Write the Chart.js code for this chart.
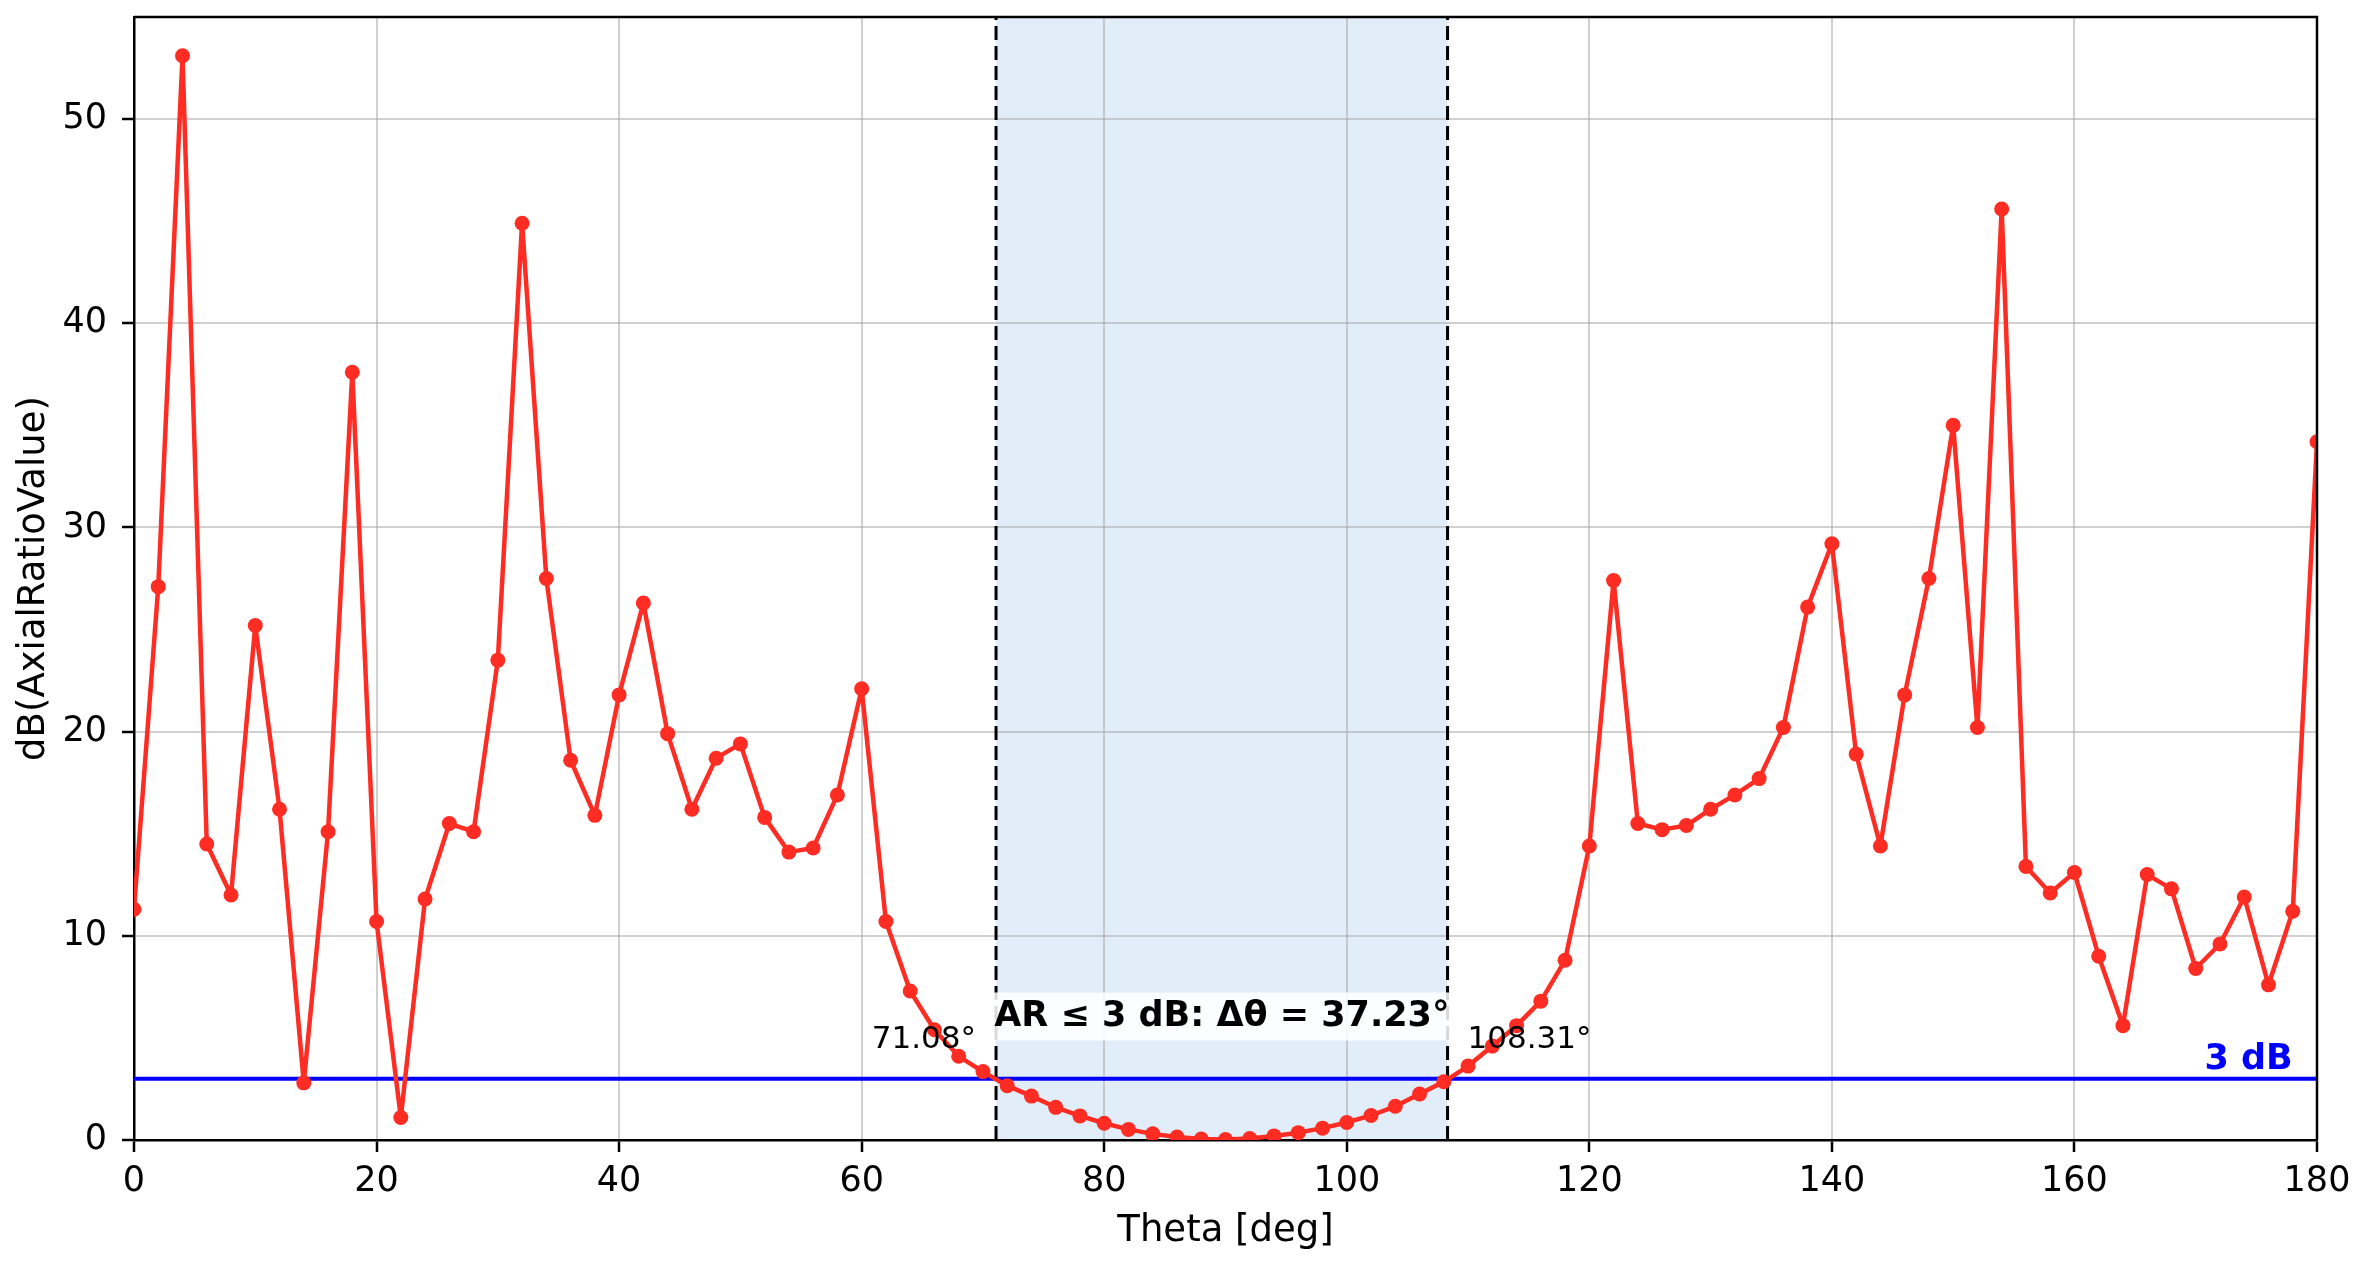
<!DOCTYPE html>
<html>
<head>
<meta charset="utf-8">
<script src="https://cdn.jsdelivr.net/npm/chart.js@4/dist/chart.umd.min.js"></script>
<style>
  html, body { margin: 0; padding: 0; background: #ffffff; }
  #wrap { width: 2365px; height: 1268px; position: relative; }
</style>
</head>
<body>
<div id="wrap"><canvas id="arChart"></canvas></div>
<script>
// Theta-Werte (Grad), Schritt 2°
const thetaDeg = [
  0, 2, 4, 6, 8, 10, 12, 14, 16, 18, 20, 22, 24, 26, 28, 30, 32, 34, 36, 38,
  40, 42, 44, 46, 48, 50, 52, 54, 56, 58, 60, 62, 64, 66, 68, 70, 72, 74, 76, 78,
  80, 82, 84, 86, 88, 90, 92, 94, 96, 98, 100, 102, 104, 106, 108, 110, 112, 114, 116, 118,
  120, 122, 124, 126, 128, 130, 132, 134, 136, 138, 140, 142, 144, 146, 148, 150, 152, 154, 156, 158,
  160, 162, 164, 166, 168, 170, 172, 174, 176, 178, 180
];

// Axial Ratio in dB
const axialRatioDb = [
  11.3, 27.1, 53.1, 14.5, 12.0, 25.2, 16.2, 2.8, 15.1, 37.6, 10.7, 1.1, 11.8, 15.5, 15.1, 23.5, 44.9, 27.5, 18.6, 15.9,
  21.8, 26.3, 19.9, 16.2, 18.7, 19.4, 15.8, 14.1, 14.3, 16.9, 22.1, 10.7, 7.3, 5.4, 4.1, 3.35, 2.66, 2.15, 1.6, 1.18,
  0.82, 0.52, 0.3, 0.15, 0.05, 0.02, 0.07, 0.2, 0.36, 0.58, 0.86, 1.2, 1.65, 2.25, 2.85, 3.62, 4.6, 5.6, 6.8, 8.8,
  14.4, 27.4, 15.5, 15.2, 15.4, 16.2, 16.9, 17.7, 20.2, 26.1, 29.2, 18.9, 14.4, 21.8, 27.5, 35.0, 20.2, 45.6, 13.4, 12.1,
  13.1, 9.0, 5.6, 13.0, 12.3, 8.4, 9.6, 11.9, 7.6, 11.2, 34.2
];

// Achsen-Ticks
const xTicks = [0, 20, 40, 60, 80, 100, 120, 140, 160, 180];
const yTicks = [0, 10, 20, 30, 40, 50];

// 3-dB-Grenze und Bereich
const thresholdDb = 3;
const bandStart = 71.08;
const bandEnd = 108.31;
const bandLabel = 'AR ≤ 3 dB: Δθ = 37.23°';

const FONT = '"DejaVu Sans", "Liberation Sans", sans-serif';
Chart.defaults.font.family = FONT;
Chart.defaults.color = '#000000';

// Zusatz-Zeichnungen: Bereich, Linien, Texte, Rahmen
const overlay = {
  id: 'overlay',
  beforeDraw(chart) {
    const { ctx, chartArea: a, scales: { x } } = chart;
    const x1 = x.getPixelForValue(bandStart);
    const x2 = x.getPixelForValue(bandEnd);
    ctx.save();
    ctx.fillStyle = '#e1edf9';
    ctx.fillRect(x1, a.top, x2 - x1, a.bottom - a.top);
    ctx.restore();
  },
  beforeDatasetsDraw(chart) {
    const { ctx, chartArea: a, scales: { x, y } } = chart;
    ctx.save();
    // 3 dB Linie
    const yt = y.getPixelForValue(thresholdDb);
    ctx.strokeStyle = '#0000ff';
    ctx.lineWidth = 4;
    ctx.beginPath();
    ctx.moveTo(a.left, yt);
    ctx.lineTo(a.right, yt);
    ctx.stroke();
    // gestrichelte Grenzen
    ctx.strokeStyle = '#000000';
    ctx.lineWidth = 3;
    ctx.setLineDash([14, 6]);
    [bandStart, bandEnd].forEach(v => {
      const px = x.getPixelForValue(v);
      ctx.beginPath();
      ctx.moveTo(px, a.bottom);
      ctx.lineTo(px, a.top);
      ctx.stroke();
    });
    ctx.restore();
  },
  afterDatasetsDraw(chart) {
    const { ctx, scales: { x, y } } = chart;
    const x1 = x.getPixelForValue(bandStart);
    const x2 = x.getPixelForValue(bandEnd);
    ctx.save();

    // Grenzwerte als Text
    ctx.font = '31px ' + FONT;
    ctx.fillStyle = '#000000';
    ctx.textBaseline = 'alphabetic';
    const yb = y.getPixelForValue(4.5);
    ctx.textAlign = 'right';
    ctx.fillText(bandStart.toFixed(2) + '°', x1 - 20, yb);
    ctx.textAlign = 'left';
    ctx.fillText(bandEnd.toFixed(2) + '°', x2 + 20, yb);

    // Mittlerer Text mit Box
    ctx.font = 'bold 35px ' + FONT;
    const cx = (x1 + x2) / 2;
    const cy = y.getPixelForValue(6.05);
    const w = ctx.measureText(bandLabel).width;
    ctx.fillStyle = 'rgba(255,255,255,0.85)';
    ctx.fillRect(cx - w / 2 - 3, cy - 24, w + 6, 48);
    ctx.fillStyle = '#000000';
    ctx.textAlign = 'center';
    ctx.textBaseline = 'middle';
    ctx.fillText(bandLabel, cx, cy);

    // 3 dB Beschriftung
    ctx.font = 'bold 35px ' + FONT;
    ctx.fillStyle = '#0000ff';
    ctx.textAlign = 'right';
    ctx.textBaseline = 'alphabetic';
    ctx.fillText('3 dB', x.getPixelForValue(178), y.getPixelForValue(3.5));
    ctx.restore();
  },
  afterDraw(chart) {
    const { ctx, chartArea: a } = chart;
    ctx.save();
    ctx.strokeStyle = '#000000';
    ctx.lineWidth = 2.5;
    ctx.beginPath();
    ctx.moveTo(a.left, a.top);
    ctx.lineTo(a.right, a.top);
    ctx.lineTo(a.right, a.bottom);
    ctx.stroke();
    ctx.restore();
  }
};

// Achsenmaße fest vorgeben
function fixX(s) {
  s.height = 128;
  s.paddingLeft = 0; s.paddingRight = 0;
}
function fixY(s) {
  s.width = 134;
  s.paddingTop = 0; s.paddingBottom = 0;
}

const points = thetaDeg.map((t, i) => ({ x: t, y: axialRatioDb[i] }));

const ctx = document.getElementById('arChart').getContext('2d');
const arChart = new Chart(ctx, {
  type: 'line',
  data: {
    datasets: [{
      label: 'dB(AxialRatioValue)',
      data: points,
      borderColor: '#fe2c22',
      backgroundColor: '#fe2c22',
      borderWidth: 4.5,
      borderJoinStyle: 'round',
      borderCapStyle: 'round',
      pointRadius: 7.5,
      pointBorderWidth: 0,
      pointHoverRadius: 7.5,
      tension: 0,
      fill: false,
      clip: 0
    }]
  },
  options: {
    responsive: true,
    maintainAspectRatio: false,
    animation: false,
    devicePixelRatio: 1,
    layout: { padding: { left: 0, top: 17, right: 48, bottom: 0 } },
    plugins: {
      legend: { display: false },
      tooltip: { enabled: false }
    },
    scales: {
      x: {
        type: 'linear',
        min: 0,
        max: 180,
        afterFit: fixX,
        afterBuildTicks: s => { s.ticks = xTicks.map(v => ({ value: v })); },
        ticks: { font: { size: 35 }, color: '#000000', padding: 9, maxRotation: 0 },
        grid: { color: 'rgba(170,170,170,0.55)', lineWidth: 2, tickLength: 12, tickColor: '#000000', tickWidth: 2.5 },
        border: { color: '#000000', width: 2.5 },
        title: { display: true, text: 'Theta [deg]', font: { size: 37 }, color: '#000000', padding: { top: 0, bottom: 14 } }
      },
      y: {
        type: 'linear',
        min: 0,
        max: 55,
        afterFit: fixY,
        afterBuildTicks: s => { s.ticks = yTicks.map(v => ({ value: v })); },
        ticks: { font: { size: 35 }, color: '#000000', padding: 15 },
        grid: { color: 'rgba(170,170,170,0.55)', lineWidth: 2, tickLength: 12, tickColor: '#000000', tickWidth: 2.5 },
        border: { color: '#000000', width: 2.5 },
        title: { display: true, text: 'dB(AxialRatioValue)', font: { size: 37 }, color: '#000000', padding: { top: 12, bottom: 0 } }
      }
    }
  },
  plugins: [overlay]
});
</script>
</body>
</html>
